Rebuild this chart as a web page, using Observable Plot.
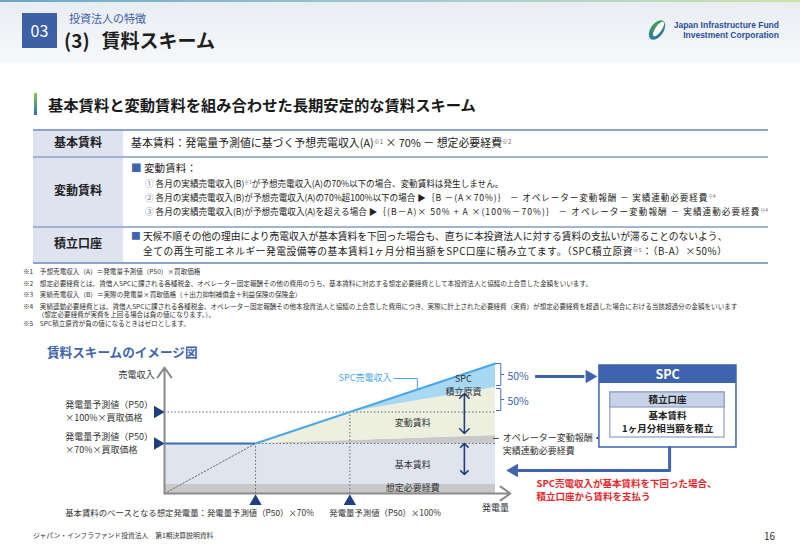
<!DOCTYPE html>
<html><head><meta charset="utf-8">
<script src="https://cdn.jsdelivr.net/npm/d3@7"></script>
<script src="https://cdn.jsdelivr.net/npm/@observablehq/plot@0.6"></script>
<style>
body{margin:0;width:800px;height:553px;position:relative;overflow:hidden;background:#fff;font-family:"Noto Sans CJK JP",sans-serif;color:#222}
.t{position:absolute;white-space:nowrap;line-height:1}
.box{position:absolute}
.sup{font-size:0.55em;vertical-align:0.55em;color:#666}
.bl{color:#3d64ad}
.ci{color:#6f7fa8}
.sp{letter-spacing:0.9px}
#chart{position:absolute;left:0;top:330px}
</style></head>
<body>
<div class="box" style="left:0;top:0;width:800px;height:63px;background:linear-gradient(180deg,#e8edf2,#f7f8fa)"></div>
<div class="box" style="left:0;top:0;width:800px;height:2px;background:linear-gradient(90deg,#6aa8c8,#a9cfd0 60%,#cde3a2)"></div>
<div class="box" style="left:22px;top:13px;width:35px;height:35px;background:#3d5fa6"></div>
<svg class="box" style="left:646px;top:18px" width="22" height="24" viewBox="0 0 22 24">
<defs><linearGradient id="lg" x1="0" y1="0" x2="1" y2="1"><stop offset="0" stop-color="#49a844"/><stop offset="1" stop-color="#2a6cb8"/></linearGradient></defs>
<ellipse cx="11" cy="12" rx="6.5" ry="11" transform="rotate(35 11 12)" fill="url(#lg)"/>
<ellipse cx="12.5" cy="11" rx="3.2" ry="8.5" transform="rotate(35 12.5 11)" fill="#fff"/>
</svg>
<div class="box" style="left:34px;top:93px;width:3px;height:22px;background:linear-gradient(180deg,#8cc63f,#2f6db5)"></div>
<!-- table frame -->
<div class="box" style="left:33px;top:131px;width:90px;height:131px;background:#dde4f0"></div>
<div class="box" style="left:33px;top:129px;width:735px;height:2px;background:#8ea3c9"></div>
<div class="box" style="left:33px;top:156px;width:735px;height:1.5px;background:#a3b3d2"></div>
<div class="box" style="left:33px;top:226px;width:735px;height:1.5px;background:#a3b3d2"></div>
<div class="box" style="left:33px;top:262px;width:735px;height:2px;background:#8ea3c9"></div>
<div id="chart"></div>
<script>
// ---------- slide texts ----------
const headerTexts = ["03", "投資法人の特徴", "(3) 賃料スキーム"];
const sectionTitle = "基本賃料と変動賃料を組み合わせた長期安定的な賃料スキーム";
const tableLabels = ["基本賃料", "変動賃料", "積立口座"];
const footnotes = [
  "※1　予想売電収入（A）＝発電量予測値（P50）×買取価格",
  "※2　想定必要経費とは、賃借人SPCに課される各種税金、オペレーター固定報酬その他の費用のうち、基本賃料に対応する想定必要経費として本投資法人と協議の上合意した金額をいいます。",
  "※3　実績売電収入（B）＝実際の発電量×買取価格（＋出力抑制補償金＋利益保険の保険金）",
  "※4　実績連動必要経費とは、賃借人SPCに課される各種税金、オペレーター固定報酬その他本投資法人と協議の上合意した費用につき、実際に計上された必要経費（実費）が想定必要経費を超過した場合における当該超過分の金額をいいます",
  "　　 （想定必要経費が実費を上回る場合は負の値になります。）。",
  "※5　SPC積立原資が負の値になるときはゼロとします。"
];

// ---------- diagram data (schematic units) ----------
const genX = [0, 27.5, 56, 100];          // 発電量: 原点, P50×70%, P50×100%, 右端
const spcRevenue = [0, 50, 81.5, 130];    // SPC売電収入
const baseRent = 50;                       // P50×70%×買取価格 (基本賃料水準)
const fullRevenue = 81.5;                  // P50×100%×買取価格
const expense = 9;                         // 想定必要経費
const operatorTop = [50, 50, 53, 58];      // オペレーター変動報酬・実績連動必要経費 上端
const variableTop = [50, 50, 81.5, 106];   // 変動賃料 上端 (超過分の50%)

function T(html, x, cy, fs, style = "") {
  const d = document.createElement("div");
  d.className = "t"; d.innerHTML = html;
  d.style.cssText = `left:${x}px;top:${cy - fs * 0.55}px;font-size:${fs}px;${style}`;
  document.body.appendChild(d);
  return d;
}
const S = s => `<span class="sup">${s}</span>`;

T(headerTexts[0], 39.5, 31, 16, "color:#fff;transform:translateX(-50%)");
T(headerTexts[1], 69, 19, 11, "color:#3d5fa6");
T(`(3)<span style="margin-left:12px">賃料スキーム</span>`, 64, 40, 19, "font-weight:700;color:#1e1e1e");
T("Japan Infrastructure Fund", 779, 26, 8.5, "font-family:'Liberation Sans';font-weight:700;color:#2a4f9b;transform:translateX(-100%)");
T("Investment Corporation", 779, 36, 8.5, "font-family:'Liberation Sans';font-weight:700;color:#2a4f9b;transform:translateX(-100%)");
T(sectionTitle, 48, 105, 15.3, "font-weight:700;color:#1a1a1a");

T(tableLabels[0], 78, 143, 12, "font-weight:700;transform:translateX(-50%)");
T(tableLabels[1], 78, 191, 12, "font-weight:700;transform:translateX(-50%)");
T(tableLabels[2], 78, 244, 12, "font-weight:700;transform:translateX(-50%)");

T(`基本賃料：発電量予測値に基づく予想売電収入(A)${S("※1")} × 70% － 想定必要経費${S("※2")}`, 131, 143, 10.9);
T(`<span class="bl">■</span> 変動賃料：`, 131, 169, 10.6);
T(`<span class="ci">①</span> 各月の実績売電収入(B)${S("※3")}が予想売電収入(A)の70%以下の場合、変動賃料は発生しません。`, 145, 184, 8.6);
T(`<span class="ci">②</span> 各月の実績売電収入(B)が予想売電収入(A)の70%超100%以下の場合 ▶<span class="sp">｛B －(A×70%)｝ － オペレーター変動報酬 － 実績連動必要経費</span>${S("※4")}`, 145, 198, 8.6);
T(`<span class="ci">③</span> 各月の実績売電収入(B)が予想売電収入(A)を超える場合 ▶<span class="sp" style="letter-spacing:1.05px">｛(B－A)× 50% + A ×(100%－70%)｝ － オペレーター変動報酬 － 実績連動必要経費</span>${S("※4")}`, 145, 212, 8.6);
T(`<span class="bl">■</span> 天候不順その他の理由により売電収入が基本賃料を下回った場合も、直ちに本投資法人に対する賃料の支払いが滞ることのないよう、`, 131, 237, 9.75);
T(`全ての再生可能エネルギー発電設備等の基本賃料1ヶ月分相当額をSPC口座に積み立てます。（SPC積立原資${S("※5")}：（B-A）×50%）`, 143, 252, 9.75, "letter-spacing:0.5px");

const fnY = [272, 283.5, 295, 306.5, 315, 323.5];
footnotes.forEach((f, i) => T(f, 23, fnY[i], 6.6, "color:#333"));

T("賃料スキームのイメージ図", 47, 353, 12.6, "font-weight:700;color:#3d64ad");
T("ジャパン・インフラファンド投資法人　第1期決算説明資料", 33, 536, 6.8, "color:#333");
T("16", 775, 536, 10, "color:#333;transform:translateX(-100%)");

// ---------- diagram ----------
const pts = (ys, from = 0) => genX.slice(from).map((x, i) => ({x, y: ys[i + from]}));
const expenseArea = [{x: genX[0], y1: 0, y2: expense}, {x: genX[3], y1: 0, y2: expense}];
const baseArea = [{x: genX[0], y1: expense, y2: baseRent}, {x: genX[3], y1: expense, y2: baseRent}];
const opArea = genX.slice(1).map((x, i) => ({x, y1: baseRent, y2: operatorTop[i + 1]}));
const varArea = genX.slice(1).map((x, i) => ({x, y1: operatorTop[i + 1], y2: Math.min(variableTop[i + 1], spcRevenue[i + 1])}));
const spcArea = genX.slice(2).map((x, i) => ({x, y1: variableTop[i + 2], y2: spcRevenue[i + 2]}));

const FF = "'Noto Sans CJK JP', sans-serif";
const navy = "#1f3f80", blue = "#3d64ad", dot = "#6b6b6b", sky = "#4aa8e8";
const dash = {stroke: dot, strokeWidth: 1, strokeDasharray: "1.5,2"};

const leftLabels = [
  {x: -3, y: 118, t: "売電収入", a: "end"},
  {x: -30, y: 88, t: "発電量予測値（P50）", a: "start"},
  {x: -30, y: 75, t: "×100%×買取価格", a: "start"},
  {x: -30, y: 56, t: "発電量予測値（P50）", a: "start"},
  {x: -30, y: 43, t: "×70%×買取価格", a: "start"},
  {x: 100, y: -15, t: "発電量", a: "middle"},
  {x: 75, y: 70, t: "変動賃料", a: "middle"},
  {x: 75, y: 28, t: "基本賃料", a: "middle"},
  {x: 75, y: 5.5, t: "想定必要経費", a: "middle"},
  {x: 90.3, y: 114, t: "SPC", a: "middle"},
  {x: 90.3, y: 101, t: "積立原資", a: "middle"},
  {x: 102.2, y: 55, t: "オペレーター変動報酬・", a: "start"},
  {x: 102.2, y: 42, t: "実績連動必要経費", a: "start"}
];
const bottomLabels = [
  {x: -30, t: "基本賃料のベースとなる想定発電量：発電量予測値（P50）×70%"},
  {x: 49.8, t: "発電量予測値（P50）×100%"}
];

const chart = Plot.plot({
  width: 800, height: 200, margin: 0,
  x: {type: "linear", domain: [0, 100], range: [164, 495], axis: null},
  y: {type: "linear", domain: [0, 130], range: [163, 33], axis: null},
  style: {background: "transparent", fontFamily: FF, overflow: "visible"},
  marks: [
    Plot.areaY(expenseArea, {x: "x", y1: "y1", y2: "y2", fill: "#c9c9c9"}),
    Plot.areaY(baseArea, {x: "x", y1: "y1", y2: "y2", fill: "#dfe4ef"}),
    Plot.areaY(opArea, {x: "x", y1: "y1", y2: "y2", fill: "#c9c9c9"}),
    Plot.areaY(varArea, {x: "x", y1: "y1", y2: "y2", fill: "#edf0de"}),
    Plot.areaY(spcArea, {x: "x", y1: "y1", y2: "y2", fill: "#a9d8f2"}),
    // dotted guides
    Plot.ruleY([fullRevenue], {x1: genX[0], x2: genX[3], ...dash}),
    Plot.ruleY([baseRent], {x1: genX[1], x2: genX[3], ...dash}),
    Plot.ruleX([genX[1]], {y1: 0, y2: baseRent, ...dash}),
    Plot.ruleX([genX[2]], {y1: 0, y2: fullRevenue, ...dash}),
    Plot.line(pts(spcRevenue).slice(0, 2), {x: "x", y: "y", ...dash}),
    // base rent line & SPC revenue line
    Plot.ruleY([baseRent], {x1: genX[0], x2: genX[1], stroke: "#3a6cb3", strokeWidth: 2}),
    Plot.line(pts(spcRevenue, 1), {x: "x", y: "y", stroke: sky, strokeWidth: 2}),
    // axes
    Plot.arrow([0], {x1: 0, y1: 0, x2: 0, y2: 126, stroke: "#8a8a8a", strokeWidth: 2, headLength: 9, headAngle: 70}),
    Plot.arrow([0], {x1: 0, y1: 0, x2: 104.5, y2: 0, stroke: "#8a8a8a", strokeWidth: 2, headLength: 9, headAngle: 70}),
    // double arrows
    Plot.arrow([{y1: 80, y2: 100}, {y1: 80, y2: 60}, {y1: 34.5, y2: 50}, {y1: 34.5, y2: 19}],
      {x1: 90.6, x2: 90.6, y1: "y1", y2: "y2", stroke: navy, strokeWidth: 1.6, headLength: 7, headAngle: 90}),
    // markers
    Plot.dot([fullRevenue, baseRent], {x: -2.1, y: d => d, symbol: "triangle", r: 4.6, fill: navy, rotate: 90}),
    Plot.dot([genX[1], genX[2]], {x: d => d, y: -8, symbol: "triangle", r: 4.6, fill: navy}),
    // SPC revenue leader
    Plot.line([{x: 69.4, y: 115}, {x: 76.4, y: 115}, {x: 76.4, y: 104.5}], {x: "x", y: "y", stroke: sky, strokeWidth: 1}),
    Plot.text([{x: 52.6, y: 115}], {x: "x", y: "y", text: () => "SPC売電収入", fill: sky, fontSize: 9, textAnchor: "start"}),
    // brackets
    Plot.line([
      {k: 1, x: 100.3, y: 130}, {k: 1, x: 101.6, y: 130}, {k: 1, x: 101.6, y: 119}, {k: 1, x: 102.6, y: 119}, {k: 1, x: 101.6, y: 119}, {k: 1, x: 101.6, y: 108}, {k: 1, x: 100.3, y: 108},
      {k: 2, x: 100.3, y: 105}, {k: 2, x: 101.6, y: 105}, {k: 2, x: 101.6, y: 94}, {k: 2, x: 102.6, y: 94}, {k: 2, x: 101.6, y: 94}, {k: 2, x: 101.6, y: 83}, {k: 2, x: 100.3, y: 83}
    ], {x: "x", y: "y", z: "k", stroke: "#4a6fb2", strokeWidth: 1}),
    Plot.text([{y: 117}, {y: 92}], {x: 103.6, y: "y", text: () => "50%", fill: blue, fontSize: 10.5, textAnchor: "start"}),
    // operator leader
    Plot.ruleY([55], {x1: 99.4, x2: 101.2, stroke: "#555", strokeWidth: 1}),
    // arrow to SPC
    Plot.ruleY([117], {x1: 112.1, x2: 127, stroke: blue, strokeWidth: 3}),
    Plot.dot([117], {x: 128.4, y: d => d, symbol: "triangle", r: 5, fill: blue, rotate: 90}),
    // SPC box
    Plot.rect([0], {x1: 131.4, x2: 172.8, y1: 46, y2: 128, fill: "#fff", stroke: blue, strokeWidth: 1.5}),
    Plot.rect([0], {x1: 131.4, x2: 172.8, y1: 110, y2: 128, fill: blue}),
    Plot.rect([0], {x1: 134.7, x2: 169.2, y1: 56, y2: 101, fill: "#fff", stroke: "#8aa0c8", strokeWidth: 1.2}),
    Plot.rect([0], {x1: 134.7, x2: 169.2, y1: 86, y2: 101, fill: "#c8d3e9", stroke: "#8aa0c8", strokeWidth: 1.2}),
    Plot.text(["SPC"], {x: 152, y: 119, text: d => d, fill: "#fff", fontSize: 12.5, fontWeight: 700}),
    Plot.text(["積立口座"], {x: 152, y: 93.5, text: d => d, fill: "#222", fontSize: 9.5, fontWeight: 700}),
    Plot.text(["基本賃料", "1ヶ月分相当額を積立"], {x: 152, y: (d, i) => i ? 64.5 : 77.5, text: d => d, fill: "#222", fontSize: 9.5, fontWeight: 700}),
    // return arrow
    Plot.line([{x: 152.6, y: 46}, {x: 152.6, y: 23}, {x: 107, y: 23}], {x: "x", y: "y", stroke: blue, strokeWidth: 3}),
    Plot.dot([23], {x: 105.6, y: d => d, symbol: "triangle", r: 5, fill: blue, rotate: -90}),
    Plot.text(["SPC売電収入が基本賃料を下回った場合、", "積立口座から賃料を支払う"], {x: 112.4, y: (d, i) => i ? -3 : 9.5, text: d => d, fill: "#e5262b", fontSize: 9.5, fontWeight: 700, textAnchor: "start"}),
    // labels
    Plot.text(leftLabels.filter(d => d.a === "start"), {x: "x", y: "y", text: "t", fill: "#333", fontSize: 9, textAnchor: "start"}),
    Plot.text(leftLabels.filter(d => d.a === "end"), {x: "x", y: "y", text: "t", fill: "#333", fontSize: 9, textAnchor: "end"}),
    Plot.text(leftLabels.filter(d => d.a === "middle"), {x: "x", y: "y", text: "t", fill: "#333", fontSize: 9, textAnchor: "middle"}),
    Plot.text(bottomLabels, {x: "x", y: -20, text: "t", fill: "#333", fontSize: 8.4, textAnchor: "start"})
  ]
});
document.getElementById("chart").appendChild(chart);
</script>
</body></html>
